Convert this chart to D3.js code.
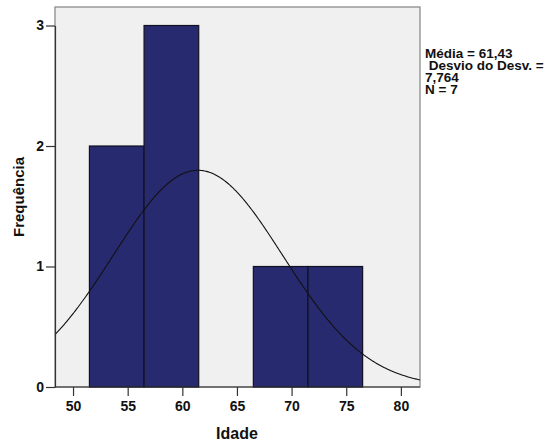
<!DOCTYPE html>
<html>
<head>
<meta charset="utf-8">
<script src="https://cdn.jsdelivr.net/npm/d3@7"></script>
<style>
  html, body { margin: 0; padding: 0; background: #ffffff; }
  svg { display: block; font-family: Arial, "Liberation Sans", sans-serif; }
</style>
</head>
<body>
<svg id="chart" width="556" height="445"></svg>
<script>
// Histogram of ages (Idade) with fitted normal curve
const binStarts = [51.5, 56.5, 66.5, 71.5];
const binWidth = 5;
const binCounts = [2, 3, 1, 1];
const xTicks = [50, 55, 60, 65, 70, 75, 80];
const yTicks = [0, 1, 2, 3];
const mean = 61.43;
const sd = 7.764;
const n = 7;
const statsLines = ["Média = 61,43", " Desvio do Desv. =", "7,764", "N = 7"];

const svg = d3.select("#chart");
const plot = { left: 55, right: 420, top: 7, bottom: 387 };

const x = d3.scaleLinear().domain([48.35, 81.75]).range([plot.left, plot.right]);
const y = d3.scaleLinear().domain([0, 3]).range([plot.bottom, 25.5]);

// plot background and frame
svg.append("rect")
  .attr("x", plot.left).attr("y", plot.top)
  .attr("width", plot.right - plot.left).attr("height", plot.bottom - plot.top)
  .attr("fill", "#f0f0f0")
  .attr("stroke", "#8c8c8c").attr("stroke-width", 1.3);

// bars
const bins = binStarts.map((s, i) => ({ x0: s, x1: s + binWidth, count: binCounts[i] }));
svg.append("g").selectAll("rect").data(bins).join("rect")
  .attr("x", d => x(d.x0))
  .attr("y", d => y(d.count))
  .attr("width", d => x(d.x1) - x(d.x0))
  .attr("height", d => y(0) - y(d.count))
  .attr("fill", "#282a70")
  .attr("stroke", "#111122").attr("stroke-width", 1.2);

// normal curve scaled to counts per bin
const pdf = v => Math.exp(-0.5 * ((v - mean) / sd) ** 2) / (sd * Math.sqrt(2 * Math.PI));
const curvePts = d3.range(0, 401).map(i => {
  const v = 48.35 + (81.75 - 48.35) * i / 400;
  return [v, n * binWidth * pdf(v)];
});
svg.append("path")
  .datum(curvePts)
  .attr("fill", "none")
  .attr("stroke", "#111111").attr("stroke-width", 1.1)
  .attr("d", d3.line().x(d => x(d[0])).y(d => y(d[1])));

// axes
const xAxis = svg.append("g")
  .attr("transform", `translate(0,${plot.bottom})`)
  .call(d3.axisBottom(x).tickValues(xTicks).tickSize(9).tickPadding(5).tickSizeOuter(0));
const yAxis = svg.append("g")
  .attr("transform", `translate(${plot.left},0)`)
  .call(d3.axisLeft(y).tickValues(yTicks).tickFormat(d3.format("d"))
    .tickSize(9).tickPadding(2).tickSizeOuter(0));

[xAxis, yAxis].forEach(g => {
  g.select(".domain").attr("stroke", "#333").attr("stroke-width", 1.2);
  g.selectAll(".tick line").attr("stroke", "#333").attr("stroke-width", 1.2);
  g.selectAll(".tick text")
    .attr("fill", "#111")
    .style("font-size", "14px")
    .style("font-weight", "bold")
    .style("font-family", "Arial, 'Liberation Sans', sans-serif");
});
xAxis.select(".domain").attr("d", `M${plot.left},0H${plot.right}`);

// axis titles
svg.append("text")
  .attr("x", x(65)).attr("y", 439)
  .attr("text-anchor", "middle")
  .style("font-size", "16px").style("font-weight", "bold")
  .attr("fill", "#111")
  .text("Idade");

svg.append("text")
  .attr("transform", `translate(24,${(plot.top + plot.bottom) / 2}) rotate(-90)`)
  .attr("text-anchor", "middle")
  .style("font-size", "15px").style("font-weight", "bold")
  .attr("fill", "#111")
  .text("Frequência");

// summary statistics
svg.append("g").selectAll("text").data(statsLines).join("text")
  .attr("x", 425)
  .attr("y", (d, i) => 58 + i * 12)
  .attr("xml:space", "preserve")
  .style("white-space", "pre")
  .style("font-size", "13.5px")
  .style("font-weight", "bold")
  .attr("fill", "#111")
  .text(d => d);
</script>
</body>
</html>
